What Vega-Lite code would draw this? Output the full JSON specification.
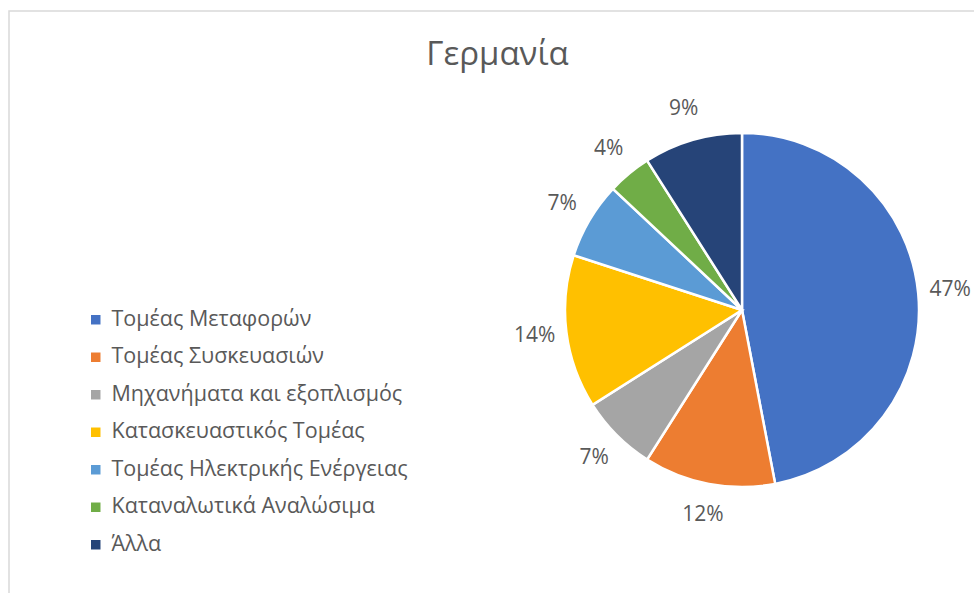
{
  "$schema": "https://vega.github.io/schema/vega-lite/v6.json",
  "autosize": {"type": "none"},
  "padding": {"left": 9, "top": 11, "right": 0, "bottom": 0},
  "width": 965,
  "height": 582,
  "background": "white",
  "config": {
    "view": {"stroke": null},
    "font": "Open Sans"
  },
  "title": {
    "text": "Γερμανία",
    "fontSize": 33,
    "font": "Open Sans",
    "fontWeight": "normal",
    "color": "#595959",
    "anchor": "middle",
    "frame": "group",
    "dx": 6,
    "offset": -78,
    "baseline": "middle"
  },
  "data": {
    "values": [
      {"sector": "Τομέας Μεταφορών", "value": 47, "label": "47%", "order": 1},
      {"sector": "Τομέας Συσκευασιών", "value": 12, "label": "12%", "order": 2},
      {"sector": "Μηχανήματα και εξοπλισμός", "value": 7, "label": "7%", "order": 3},
      {"sector": "Κατασκευαστικός Τομέας", "value": 14, "label": "14%", "order": 4},
      {"sector": "Τομέας Ηλεκτρικής Ενέργειας", "value": 7, "label": "7%", "order": 5},
      {"sector": "Καταναλωτικά Αναλώσιμα", "value": 4, "label": "4%", "order": 6},
      {"sector": "Άλλα", "value": 9, "label": "9%", "order": 7}
    ]
  },
  "layer": [
    {
      "data": {"values": [{"frame": 1}]},
      "mark": {"type": "rect", "fill": null, "stroke": "#d9d9d9", "strokeWidth": 1.5},
      "encoding": {
        "x": {"value": 0},
        "x2": {"value": 1000},
        "y": {"value": 0},
        "y2": {"value": 620}
      }
    },
    {
      "mark": {"type": "arc", "outerRadius": 177, "x": 733, "y": 299, "stroke": "white", "strokeWidth": 2.5},
      "encoding": {
        "theta": {"field": "value", "type": "quantitative", "stack": true},
        "order": {"field": "order", "type": "quantitative"},
        "color": {
          "field": "sector",
          "type": "nominal",
          "sort": ["Τομέας Μεταφορών", "Τομέας Συσκευασιών", "Μηχανήματα και εξοπλισμός", "Κατασκευαστικός Τομέας", "Τομέας Ηλεκτρικής Ενέργειας", "Καταναλωτικά Αναλώσιμα", "Άλλα"],
          "scale": {
            "domain": ["Τομέας Μεταφορών", "Τομέας Συσκευασιών", "Μηχανήματα και εξοπλισμός", "Κατασκευαστικός Τομέας", "Τομέας Ηλεκτρικής Ενέργειας", "Καταναλωτικά Αναλώσιμα", "Άλλα"],
            "range": ["#4472C4", "#ED7D31", "#A5A5A5", "#FFC000", "#5B9BD5", "#70AD47", "#264478"]
          },
          "legend": {
            "title": null,
            "orient": "none",
            "legendX": 76,
            "legendY": 298,
            "symbolType": "square",
            "symbolSize": 90,
            "symbolStrokeWidth": 0,
            "labelFontSize": 21.5,
            "labelColor": "#595959",
            "labelFont": "Open Sans",
            "labelOffset": 5,
            "rowPadding": 14.5,
            "labelLimit": 400
          }
        }
      }
    },
    {
      "mark": {"type": "text", "radius": 209, "x": 733, "y": 299, "fontSize": 21, "color": "#595959", "font": "Open Sans"},
      "encoding": {
        "theta": {"field": "value", "type": "quantitative", "stack": true},
        "order": {"field": "order", "type": "quantitative"},
        "text": {"field": "label", "type": "nominal"}
      }
    }
  ]
}
